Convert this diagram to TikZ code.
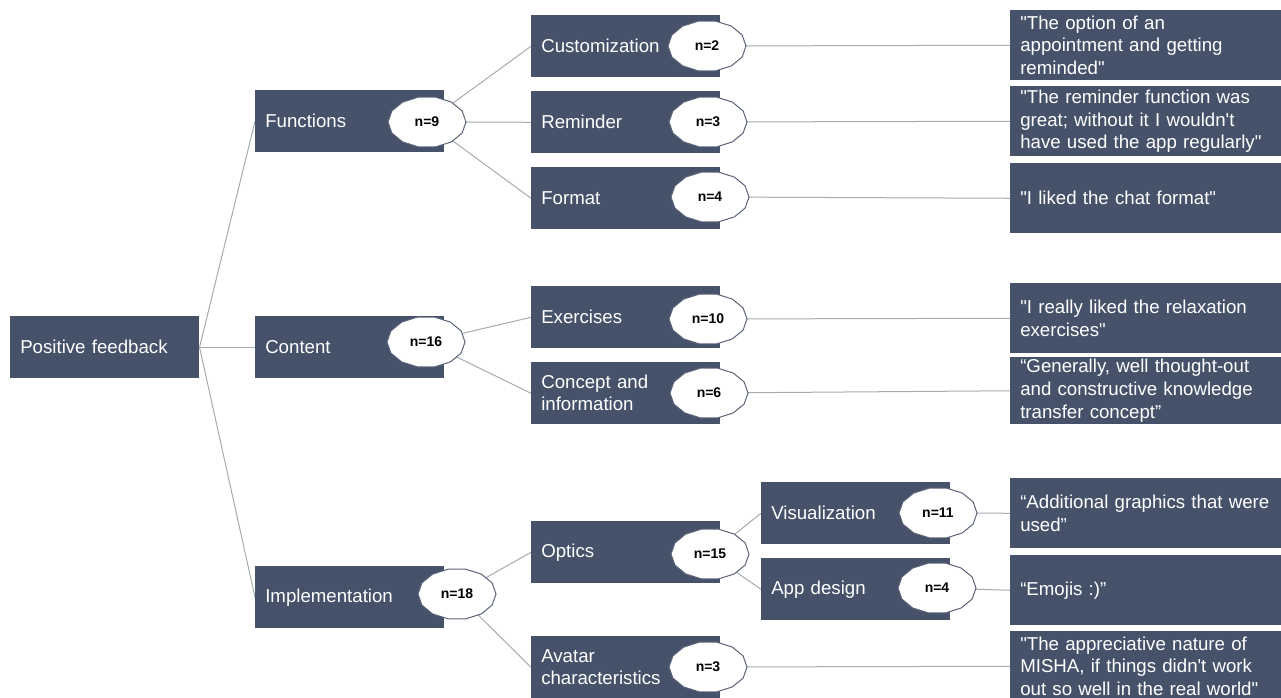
\documentclass[tikz,border=0pt]{standalone}
\usepackage{fontspec}
\setmainfont{Liberation Sans}[Ligatures=TeXOff]
\usetikzlibrary{backgrounds,shapes.geometric}
\definecolor{boxc}{RGB}{70,82,106}
\definecolor{linec}{RGB}{166,170,178}
\definecolor{octc}{RGB}{90,99,120}
\newcommand\octnode[4]{%
  \path[octo,shift={(#2,#3)}] (0:39 and 25.5) \foreach \i in {1,...,13}{ -- ({\i*360/14}:39 and 25.5)} -- cycle;
  \node[nlab] (#1) at (#2,#3) {#4};}
\begin{document}
\begin{tikzpicture}[x=0.75pt,y=-0.75pt,
 lbox/.style={fill=boxc,text=white,font=\fontsize{14}{16.5}\selectfont,anchor=north west,inner xsep=7.5pt,inner ysep=0pt,text width=126.75pt,minimum height=46.5pt,align=left},
 qbox/.style={fill=boxc,text=white,font=\fontsize{14}{17}\selectfont,anchor=north west,inner xsep=7.5pt,inner ysep=0pt,text width=188.25pt,minimum height=52.5pt,align=left},
 nlab/.style={ellipse,inner sep=0pt,minimum width=57.75pt,minimum height=37.5pt,font=\bfseries\fontsize{10.5}{12}\selectfont,text=black},
 octo/.style={fill=white,draw=octc,line width=0.75pt},
 conn/.style={draw=linec,line width=0.75pt}]
\useasboundingbox (0,0) rectangle (1281,697);

% level 0/1
\node[lbox] (pf)  at (10,316)  {Positive feedback};
\node[lbox] (fun) at (255,90)  {Functions};
\node[lbox] (con) at (255,316) {Content};
\node[lbox] (imp) at (255,566) {Implementation};
% level 2
\node[lbox] (cust) at (531,15)  {Customization};
\node[lbox] (rem)  at (531,91)  {Reminder};
\node[lbox] (form) at (531,167) {Format};
\node[lbox] (ex)   at (531,286) {Exercises};
\node[lbox] (conc) at (531,362) {Concept and\\information};
\node[lbox] (opt)  at (531,521) {Optics};
\node[lbox] (ava)  at (531,636) {Avatar\\characteristics};
% level 3
\node[lbox] (vis) at (761,482) {Visualization};
\node[lbox] (app) at (761,558) {App design};
% quotes
\node[qbox] (q1) at (1010,10)  {"The option of an\\appointment and getting\\reminded"};
\node[qbox] (q2) at (1010,86)  {"The reminder function was\\great; without it I wouldn't\\have used the app regularly"};
\node[qbox] (q3) at (1010,163) {"I liked the chat format"};
\node[qbox] (q4) at (1010,283) {"I really liked the relaxation\\exercises"};
\node[qbox,minimum height=50.25pt] (q5) at (1010,357) {“Generally, well thought-out\\and constructive knowledge\\transfer concept”};
\node[qbox] (q6) at (1010,478) {“Additional graphics that were\\used”};
\node[qbox] (q7) at (1010,555) {“Emojis :)”};
\node[qbox] (q8) at (1010,631) {"The appreciative nature of\\MISHA, if things didn't work\\out so well in the real world"};

% count badges
\octnode{o9}{427}{122}{n=9}
\octnode{o16}{426}{342}{n=16}
\octnode{o18}{457}{594}{n=18}
\octnode{o2}{707}{46}{n=2}
\octnode{o3}{708}{122}{n=3}
\octnode{o4}{710}{197}{n=4}
\octnode{o10}{708}{319}{n=10}
\octnode{o6}{709}{393}{n=6}
\octnode{o15}{710}{554}{n=15}
\octnode{o3b}{708}{667}{n=3}
\octnode{o11}{938}{513}{n=11}
\octnode{o4b}{937}{588}{n=4}

\begin{scope}[on background layer]
\draw[conn] (pf.east) -- (fun.west);
\draw[conn] (pf.east) -- (con.west);
\draw[conn] (pf.east) -- (imp.west);
\draw[conn] (o9.center) -- (cust.west);
\draw[conn] (o9.center) -- (rem.west);
\draw[conn] (o9.center) -- (form.west);
\draw[conn] (o16.center) -- (ex.west);
\draw[conn] (o16.center) -- (conc.west);
\draw[conn] (o18.center) -- (opt.west);
\draw[conn] (o18.center) -- (ava.west);
\draw[conn] (o15.center) -- (vis.west);
\draw[conn] (o15.center) -- (app.west);
\draw[conn] (o2.center) -- (q1.west);
\draw[conn] (o3.center) -- (q2.west);
\draw[conn] (o4.center) -- (q3.west);
\draw[conn] (o10.center) -- (q4.west);
\draw[conn] (o6.center) -- (q5.west);
\draw[conn] (o11.center) -- (q6.west);
\draw[conn] (o4b.center) -- (q7.west);
\draw[conn] (o3b.center) -- (q8.west);
\end{scope}
\end{tikzpicture}
\end{document}
